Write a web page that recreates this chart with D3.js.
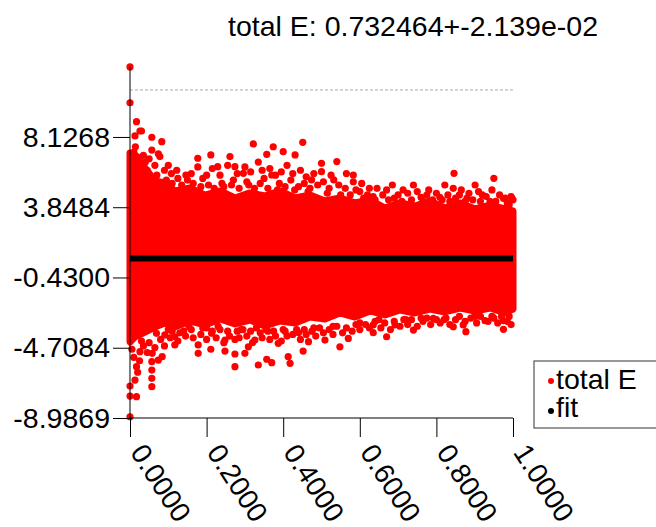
<!DOCTYPE html>
<html>
<head>
<meta charset="utf-8">
<script src="https://cdn.jsdelivr.net/npm/d3@7"></script>
<style>
  body { margin: 0; background: #fff; }
  text { font-family: "Liberation Sans", Arial, sans-serif; }
</style>
</head>
<body>
<svg id="chart" width="656" height="527"></svg>
<script>
// values
var titleText = "total E: 0.732464+-2.139e-02";
var fitValue = 0.732464;
var refLine = 10.99;
var yDomain = [-8.9869, 12.4053];
var yTicks = [-8.9869, -4.7084, -0.4300, 3.8484, 8.1268];
var xTicks = [0, 0.2, 0.4, 0.6, 0.8, 1.0];
var legendLabels = ["total E", "fit"];

// dense core of the scatter: x and the upper/lower edges of the solid band
var bandX  = [0, .013, .039, .065, .091, .117, .157, .196, .235, .274, .313, .352, .392, .431, .47,
  .509, .548, .587, .627, .666, .705, .744, .783, .822, .862, .901, .94, .979, 1.0];
var bandHi = [7.15, 7.03, 6.24, 5.45, 5.33, 4.84, 5.02, 4.59, 4.84, 4.41, 4.72, 4.53, 4.84, 4.41, 4.59,
  4.23, 4.41, 4.11, 4.29, 3.80, 4.11, 3.92, 4.23, 3.80, 4.11, 3.74, 3.98, 3.74, 3.62];
var bandLo = [-4.36, -4.05, -3.75, -3.45, -3.20, -3.45, -3.08, -3.32, -2.96, -3.26, -3.02, -3.38, -3.08, -3.20, -2.84,
  -2.96, -2.59, -2.84, -2.47, -2.71, -2.41, -2.59, -2.35, -2.53, -2.29, -2.47, -2.29, -2.59, -2.35];

// individual points: outliers above the band
var upX = [
  0, 0, .017, .03, .013, .057, .014, .083, .057, .078, .122, .146, .177, .177, .211, .229, .261, .274, .296, .322,
  .357, .374, .37, .4, .431, .451, .474, .5, .5, .54, .583, .583, .532, .562, .635, .67, .713, .74, .775, .822,
  .844, .846, .901, .95, .975, .997, .809, .026, .074, .02, .04, .1, .108, .15, .19, .24, .27, .31, .35, .39,
  .42, .44, .47, .52, .6, .62, .69, .76, .79, .86, .88, .92, .94, .985, .995,
  .01, .02, .035, .045, .05, .065, .07, .09, .095, .11, .125, .135, .16, .165, .185, .2, .205, .215, .22, .235,
  .245, .255, .265, .28, .285, .3, .305, .315, .325, .335, .34, .345, .36, .365, .38, .385, .395, .405, .41, .425,
  .43, .445, .455, .46, .465, .48, .49, .505, .515, .525, .545, .55, .565, .575, .59, .605, .61, .625, .64, .645,
  .66, .675, .685, .7, .71, .725, .735, .75, .765, .78, .785, .8, .815, .83, .835, .85, .865, .875, .885, .895,
  .91, .915, .93, .945, .955, .965, .98, .99, 1.0
];
var upY = [
  12.39, 10.21, 9.06, 8.49, 8.19, 8.11, 7.53, 7.84, 7.33, 6.93, 6.10, 5.81, 6.83, 6.3, 7.03, 6.32, 6.93, 6.32, 5.91, 7.70,
  7.07, 7.53, 5.81, 7.23, 7.03, 7.80, 5.51, 6.52, 6.01, 6.63, 5.81, 5.40, 5.51, 5.0, 4.49, 4.90, 4.90, 5.20, 4.59, 5.20,
  5.00, 5.91, 5.20, 5.61, 4.39, 4.39, 4.45, 8.49, 7.1, 6.9, 6.6, 6.4, 5.9, 5.5, 5.6, 5.3, 5.5, 5.2, 5.6, 5.3,
  5.5, 5.1, 5.0, 5.0, 4.8, 4.6, 4.4, 4.45, 4.3, 4.6, 4.4, 4.6, 4.2, 4.1, 4.5,
  7.2, 6.4, 7.0, 6.1, 6.8, 6.4, 5.8, 6.1, 5.5, 5.3, 5.6, 5.2, 5.9, 5.3, 5.1, 5.8, 5.2, 6.2, 5.0, 5.8,
  5.1, 6.4, 5.2, 5.9, 5.0, 6.3, 5.4, 6.0, 5.0, 6.6, 5.3, 6.1, 5.0, 6.2, 5.8, 4.9, 6.0, 5.1, 6.4, 5.9,
  4.9, 6.1, 5.3, 5.7, 4.8, 5.9, 5.2, 5.4, 4.7, 5.8, 5.2, 4.6, 5.9, 4.6, 4.9, 5.3, 4.4, 5.0, 4.3, 5.0,
  4.6, 4.3, 5.2, 4.6, 4.2, 4.7, 4.3, 4.8, 4.2, 4.9, 4.2, 4.7, 4.3, 4.6, 4.2, 4.4, 4.9, 4.2, 4.7, 4.3,
  4.8, 4.2, 4.5, 4.9, 4.2, 4.6, 4.4, 4.0, 4.3
];

// individual points: outliers below the band
var loX = [
  0, 0, 0, .017, .013, .017, .057, .057, .057, .057, .058, .074, .084, .026, .178, .178, .211, .248, .274, .274,
  .3, .335, .357, .37, .413, .418, .452, .248, .117, .117, .309, .326, .387, .466, .274, .213, .154, .069, .091, .548,
  .57, .635, .67, .692, .74, .792, .844, .87, .877, .927, .975, .509, .635, .975,
  .03, .1, .14, .2, .23, .29, .33, .36, .4, .44, .48, .53, .6, .65, .72, .76, .82, .9, .95, .99,
  .005, .01, .02, .025, .035, .045, .05, .065, .08, .09, .105, .11, .125, .13, .145, .16, .165, .185, .19, .2,
  .215, .225, .235, .245, .255, .26, .28, .285, .295, .305, .315, .32, .34, .345, .355, .365, .375, .38, .395, .405,
  .41, .425, .435, .445, .455, .46, .475, .485, .495, .505, .52, .53, .54, .555, .565, .58, .59, .6, .615, .625,
  .64, .655, .665, .68, .69, .705, .715, .725, .735, .75, .765, .775, .785, .8, .81, .825, .835, .85, .86, .875,
  .89, .905, .915, .935, .945, .96, .97, .985, .995
];
var loY = [
  -8.91, -7.65, -7.04, -7.69, -6.68, -5.86, -7.08, -6.57, -6.07, -5.56, -5.05, -5.46, -5.25, -4.95, -5.05, -4.54, -4.80, -4.91, -5.86, -5.09,
  -5.05, -5.76, -5.41, -5.62, -5.25, -5.66, -4.91, -4.24, -4.54, -4.04, -4.65, -4.24, -4.44, -4.34, -4.2, -3.83, -3.43, -3.83, -3.93, -4.65,
  -4.14, -3.79, -4.04, -3.32, -3.63, -2.92, -3.43, -3.32, -3.73, -3.06, -3.59, -4.24, -3.32, -3.06,
  -4.3, -3.6, -3.7, -3.5, -3.4, -3.6, -3.5, -3.7, -3.6, -3.8, -3.5, -3.4, -3.2, -3.0, -3.0, -2.9, -3.0, -2.8, -2.9, -2.8,
  -4.8, -5.3, -6.2, -5.5, -4.6, -5.0, -4.4, -4.7, -4.2, -4.6, -4.1, -3.7, -4.3, -3.8, -4.0, -3.6, -4.1, -3.9, -3.5, -4.2,
  -3.7, -4.1, -3.6, -4.4, -3.7, -4.0, -3.7, -4.1, -3.6, -4.0, -3.7, -4.4, -3.8, -4.1, -3.6, -4.2, -3.7, -4.0, -4.3, -3.7,
  -4.0, -3.9, -3.6, -4.2, -3.6, -3.9, -3.7, -4.0, -3.5, -3.8, -3.6, -3.9, -3.4, -3.8, -3.5, -3.7, -3.3, -3.6, -3.3, -3.5,
  -3.1, -3.5, -3.2, -3.6, -3.1, -3.4, -3.0, -3.3, -3.0, -3.4, -3.1, -2.9, -3.3, -3.0, -3.2, -2.9, -3.3, -3.0, -2.8, -3.1,
  -2.9, -3.2, -2.8, -3.1, -2.8, -3.2, -2.8, -3.1, -3.3
];

var svg = d3.select("#chart");
var red = "#ff0000";
var fontSize = 28.5;

var x = d3.scaleLinear().domain([0, 1]).range([130, 513]);
var y = d3.scaleLinear().domain(yDomain).range([418, 66.7]);

// title
svg.append("text")
  .attr("x", 413).attr("y", 36)
  .attr("text-anchor", "middle")
  .attr("font-size", fontSize)
  .text(titleText);

// dashed reference line
svg.append("line")
  .attr("x1", x(0)).attr("x2", x(1))
  .attr("y1", y(refLine)).attr("y2", y(refLine))
  .attr("stroke", "#aaa").attr("stroke-width", 1)
  .attr("stroke-dasharray", "3,2");

// band of the dense scatter
var band = bandX.map((d, i) => ({x: d, hi: bandHi[i], lo: bandLo[i]}));
svg.append("path")
  .datum(band)
  .attr("d", d3.area().x(d => x(d.x)).y0(d => y(d.lo)).y1(d => y(d.hi)))
  .attr("fill", red)
  .attr("stroke", red)
  .attr("stroke-width", 7)
  .attr("stroke-linejoin", "round");

// points
var pts = upX.map((d, i) => [d, upY[i]]).concat(loX.map((d, i) => [d, loY[i]]));
svg.append("g").selectAll("circle")
  .data(pts)
  .enter().append("circle")
    .attr("cx", d => x(d[0]))
    .attr("cy", d => y(d[1]))
    .attr("r", 3.6)
    .attr("fill", red);

// fit
svg.append("line")
  .attr("x1", x(0)).attr("x2", x(1))
  .attr("y1", y(fitValue)).attr("y2", y(fitValue))
  .attr("stroke", "#000").attr("stroke-width", 6);

// axes
var yAxis = d3.axisLeft(y).tickValues(yTicks).tickSize(17).tickPadding(3)
  .tickFormat(d => d.toFixed(4));
var gy = svg.append("g")
  .attr("transform", "translate(" + x(0) + ",0)")
  .call(yAxis);
gy.select(".domain").attr("d", "M0," + y(yDomain[1]) + "V" + y(yDomain[0]));
gy.selectAll("text").attr("font-size", fontSize).attr("font-family", "Liberation Sans").attr("fill", "#000");

var xAxis = d3.axisBottom(x).tickValues(xTicks).tickSize(19)
  .tickFormat(d => d.toFixed(4));
var gx = svg.append("g")
  .attr("transform", "translate(0," + y(yDomain[0]) + ")")
  .call(xAxis);
gx.select(".domain").attr("d", "M" + x(0) + ",0H" + x(1));
gx.selectAll("text")
  .attr("font-size", 28).attr("font-family", "Liberation Sans").attr("fill", "#000")
  .attr("text-anchor", "start")
  .attr("x", -2).attr("y", 36).attr("dy", 0)
  .attr("transform", "rotate(57, 0, 36)");

// legend
var legend = svg.append("g").attr("transform", "translate(534,361)");
legend.append("rect")
  .attr("width", 140).attr("height", 67)
  .attr("fill", "#fff").attr("stroke", "#333");
legend.selectAll("circle.key")
  .data(legendLabels)
  .enter().append("circle")
    .attr("class", "key")
    .attr("cx", 17).attr("cy", (d, i) => 20 + i * 30)
    .attr("r", 3)
    .attr("fill", (d, i) => i == 0 ? red : "#000");
legend.selectAll("text")
  .data(legendLabels)
  .enter().append("text")
    .attr("x", 22).attr("y", (d, i) => 28 + i * 28)
    .attr("font-size", fontSize)
    .text(d => d);
</script>
</body>
</html>
